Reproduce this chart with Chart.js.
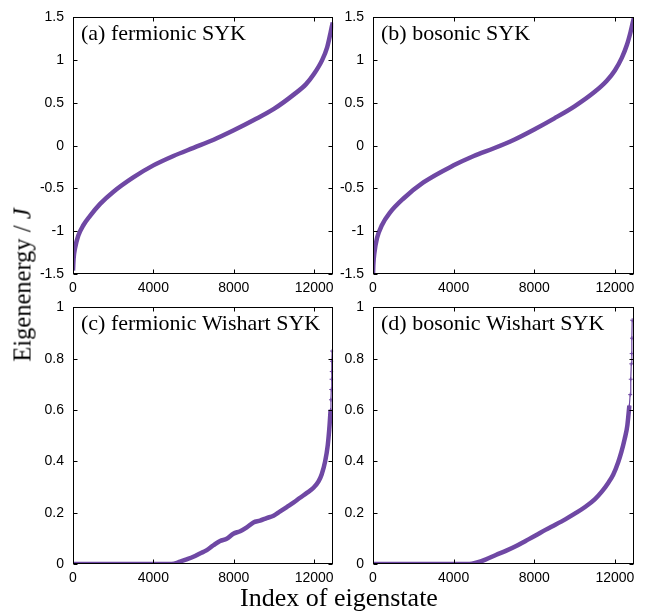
<!DOCTYPE html>
<html>
<head>
<meta charset="utf-8">
<script src="https://cdn.jsdelivr.net/npm/chart.js@4.4.1/dist/chart.umd.min.js"></script>
<style>
  body { margin: 0; background: #fff; }
  #wrap { position: relative; width: 651px; height: 612px; overflow: hidden; }
  #wrap canvas { position: absolute; }
  .lbl { position: absolute; font-family: "Liberation Serif", "Times New Roman", serif; color: #000; white-space: nowrap; }
</style>
</head>
<body>
<div id="wrap">
  <canvas id="chartA" width="340" height="300" style="left:0;top:0;width:340px;height:300px"></canvas>
  <canvas id="chartB" width="321" height="300" style="left:330px;top:0;width:321px;height:300px"></canvas>
  <canvas id="chartC" width="340" height="300" style="left:0;top:290px;width:340px;height:300px"></canvas>
  <canvas id="chartD" width="321" height="300" style="left:330px;top:290px;width:321px;height:300px"></canvas>
  <div class="lbl" id="ylab" style="left:22px;top:285px;font-size:24.5px;line-height:25px;transform:translate(-50%,-50%) rotate(-90deg)">Eigenenergy / <i>J</i></div>
  <div class="lbl" id="xlab" style="left:339px;top:585px;font-size:26px;line-height:26px;transform:translateX(-50%)">Index of eigenstate</div>
</div>
<script>
// axis ticks
const xTicks = [0, 4000, 8000, 12000];
const xMax = 12950;
const yTicksTop = [-1.5, -1, -0.5, 0, 0.5, 1, 1.5];
const yTicksBottom = [0, 0.2, 0.4, 0.6, 0.8, 1];

// (a) fermionic SYK
const aX = [0, 30, 100, 265, 515, 850, 1350, 2000, 3000, 4000, 5000, 6000, 7000, 8000, 9000, 10000, 11000, 11600, 12000, 12400, 12650, 12800, 12870, 12930];
const aY = [-1.46, -1.32, -1.2, -1.05, -0.93, -0.82, -0.68, -0.54, -0.37, -0.23, -0.12, -0.025, 0.07, 0.18, 0.3, 0.43, 0.6, 0.72, 0.84, 1.0, 1.15, 1.3, 1.38, 1.44];

// (b) bosonic SYK
const bX = [0, 20, 65, 200, 440, 850, 1500, 2500, 4000, 5000, 6000, 7000, 8000, 9000, 10000, 11000, 11600, 12000, 12350, 12600, 12780, 12880, 12950];
const bY = [-1.5, -1.38, -1.26, -1.08, -0.93, -0.78, -0.62, -0.43, -0.23, -0.12, -0.03, 0.07, 0.19, 0.32, 0.46, 0.63, 0.76, 0.88, 1.03, 1.18, 1.33, 1.43, 1.5];

// (c) fermionic Wishart SYK
const cX = [0, 4900, 5330, 5660, 5990, 6320, 6660, 6990, 7320, 7650, 7980, 8320, 8650, 8980, 9310, 9640, 9980, 10310, 10640, 10970, 11300, 11640, 11970, 12220, 12380, 12550, 12680, 12770, 12820];
const cY = [0, 0, 0.009, 0.018, 0.028, 0.041, 0.054, 0.073, 0.09, 0.098, 0.118, 0.128, 0.143, 0.162, 0.169, 0.179, 0.188, 0.205, 0.222, 0.239, 0.258, 0.277, 0.297, 0.322, 0.35, 0.4, 0.463, 0.54, 0.6];
const cTailX = [12820, 12840, 12855, 12870, 12880, 12890, 12900];
const cTailY = [0.6, 0.64, 0.68, 0.72, 0.75, 0.79, 0.83];

// (d) bosonic Wishart SYK
const dX = [0, 4786, 5114, 5605, 6097, 6589, 7080, 7572, 8064, 8556, 9047, 9539, 10030, 10522, 11014, 11342, 11670, 11916, 12161, 12325, 12489, 12620, 12718];
const dY = [0, 0, 0.005, 0.018, 0.035, 0.051, 0.069, 0.09, 0.111, 0.133, 0.153, 0.174, 0.197, 0.222, 0.253, 0.281, 0.316, 0.348, 0.396, 0.437, 0.488, 0.54, 0.616];
const dTailX = [12718, 12760, 12790, 12815, 12835, 12850, 12860];
const dTailY = [0.616, 0.66, 0.72, 0.78, 0.82, 0.88, 0.95];

const PURPLE = '#6f48a4';
const TICK_FONT = { family: '"Liberation Sans", Arial, sans-serif', size: 14 };

const toPoints = (xs, ys) => xs.map((x, i) => ({ x, y: ys[i] }));

// frame + inward ticks on all four sides, panel caption
const framePlugin = {
  id: 'frameTicks',
  afterDatasetsDraw(chart, args, opts) {
    const { ctx, chartArea: a, scales } = chart;
    const L = Math.round(a.left) + 0.5, R = Math.round(a.right) - 0.5;
    const T = Math.round(a.top) + 0.5, B = Math.round(a.bottom) - 0.5;
    ctx.save();
    ctx.strokeStyle = '#000';
    ctx.lineWidth = 1;
    ctx.strokeRect(L, T, R - L, B - T);
    ctx.beginPath();
    scales.x.ticks.forEach(t => {
      const px = Math.round(scales.x.getPixelForValue(t.value)) + 0.5;
      ctx.moveTo(px, B); ctx.lineTo(px, B - 4);
      ctx.moveTo(px, T); ctx.lineTo(px, T + 4);
    });
    scales.y.ticks.forEach(t => {
      const py = Math.round(scales.y.getPixelForValue(t.value)) + 0.5;
      ctx.moveTo(L, py); ctx.lineTo(L + 4, py);
      ctx.moveTo(R, py); ctx.lineTo(R - 4, py);
    });
    ctx.stroke();
    ctx.fillStyle = '#000';
    ctx.font = '22px "Liberation Serif", "Times New Roman", serif';
    ctx.textBaseline = 'alphabetic';
    ctx.fillText(opts.title, a.left + 8, a.top + 22.5);
    ctx.restore();
  }
};

const Panels = {
  create: (canvasId, cfg) => {
    const ctx = document.getElementById(canvasId);
    if (!ctx) return null;

    const datasets = [{
      data: toPoints(cfg.xs, cfg.ys),
      borderColor: PURPLE,
      borderWidth: 4.5,
      pointRadius: 0,
      cubicInterpolationMode: 'monotone'
    }];
    if (cfg.tailX) {
      datasets.push({
        data: toPoints(cfg.tailX, cfg.tailY),
        borderColor: PURPLE,
        backgroundColor: PURPLE,
        borderWidth: 1.2,
        pointRadius: 2,
        pointStyle: 'cross',
        pointBorderWidth: 1
      });
    }

    return new Chart(ctx, {
      type: 'line',
      data: { datasets },
      plugins: [framePlugin],
      options: {
        responsive: false,
        animation: false,
        layout: { padding: { left: 0, top: 13, right: cfg.padRight, bottom: 0 } },
        plugins: {
          legend: { display: false },
          tooltip: { enabled: false },
          frameTicks: { title: cfg.title }
        },
        scales: {
          x: {
            type: 'linear',
            min: 0,
            max: xMax,
            grid: { display: false, drawTicks: false },
            border: { display: false },
            ticks: { color: '#000', font: TICK_FONT, padding: 6, maxRotation: 0, autoSkip: false, callback: v => String(v) },
            afterBuildTicks: s => { s.ticks = xTicks.map(v => ({ value: v })); },
            afterFit: s => { s.height = 26; }
          },
          y: {
            type: 'linear',
            min: cfg.yTicks[0],
            max: cfg.yTicks[cfg.yTicks.length - 1],
            grid: { display: false, drawTicks: false },
            border: { display: false },
            ticks: { color: '#000', font: TICK_FONT, padding: 9, autoSkip: false, callback: v => String(v) },
            afterBuildTicks: s => { s.ticks = cfg.yTicks.map(v => ({ value: v })); },
            afterFit: s => { s.width = cfg.axisWidth; }
          }
        }
      }
    });
  }
};

Panels.create('chartA', { xs: aX, ys: aY, yTicks: yTicksTop, title: '(a) fermionic SYK', axisWidth: 73, padRight: 6 });
Panels.create('chartB', { xs: bX, ys: bY, yTicks: yTicksTop, title: '(b) bosonic SYK', axisWidth: 43, padRight: 17 });
Panels.create('chartC', { xs: cX, ys: cY, tailX: cTailX, tailY: cTailY, yTicks: yTicksBottom, title: '(c) fermionic Wishart SYK', axisWidth: 73, padRight: 6 });
Panels.create('chartD', { xs: dX, ys: dY, tailX: dTailX, tailY: dTailY, yTicks: yTicksBottom, title: '(d) bosonic Wishart SYK', axisWidth: 43, padRight: 17 });
</script>
</body>
</html>
